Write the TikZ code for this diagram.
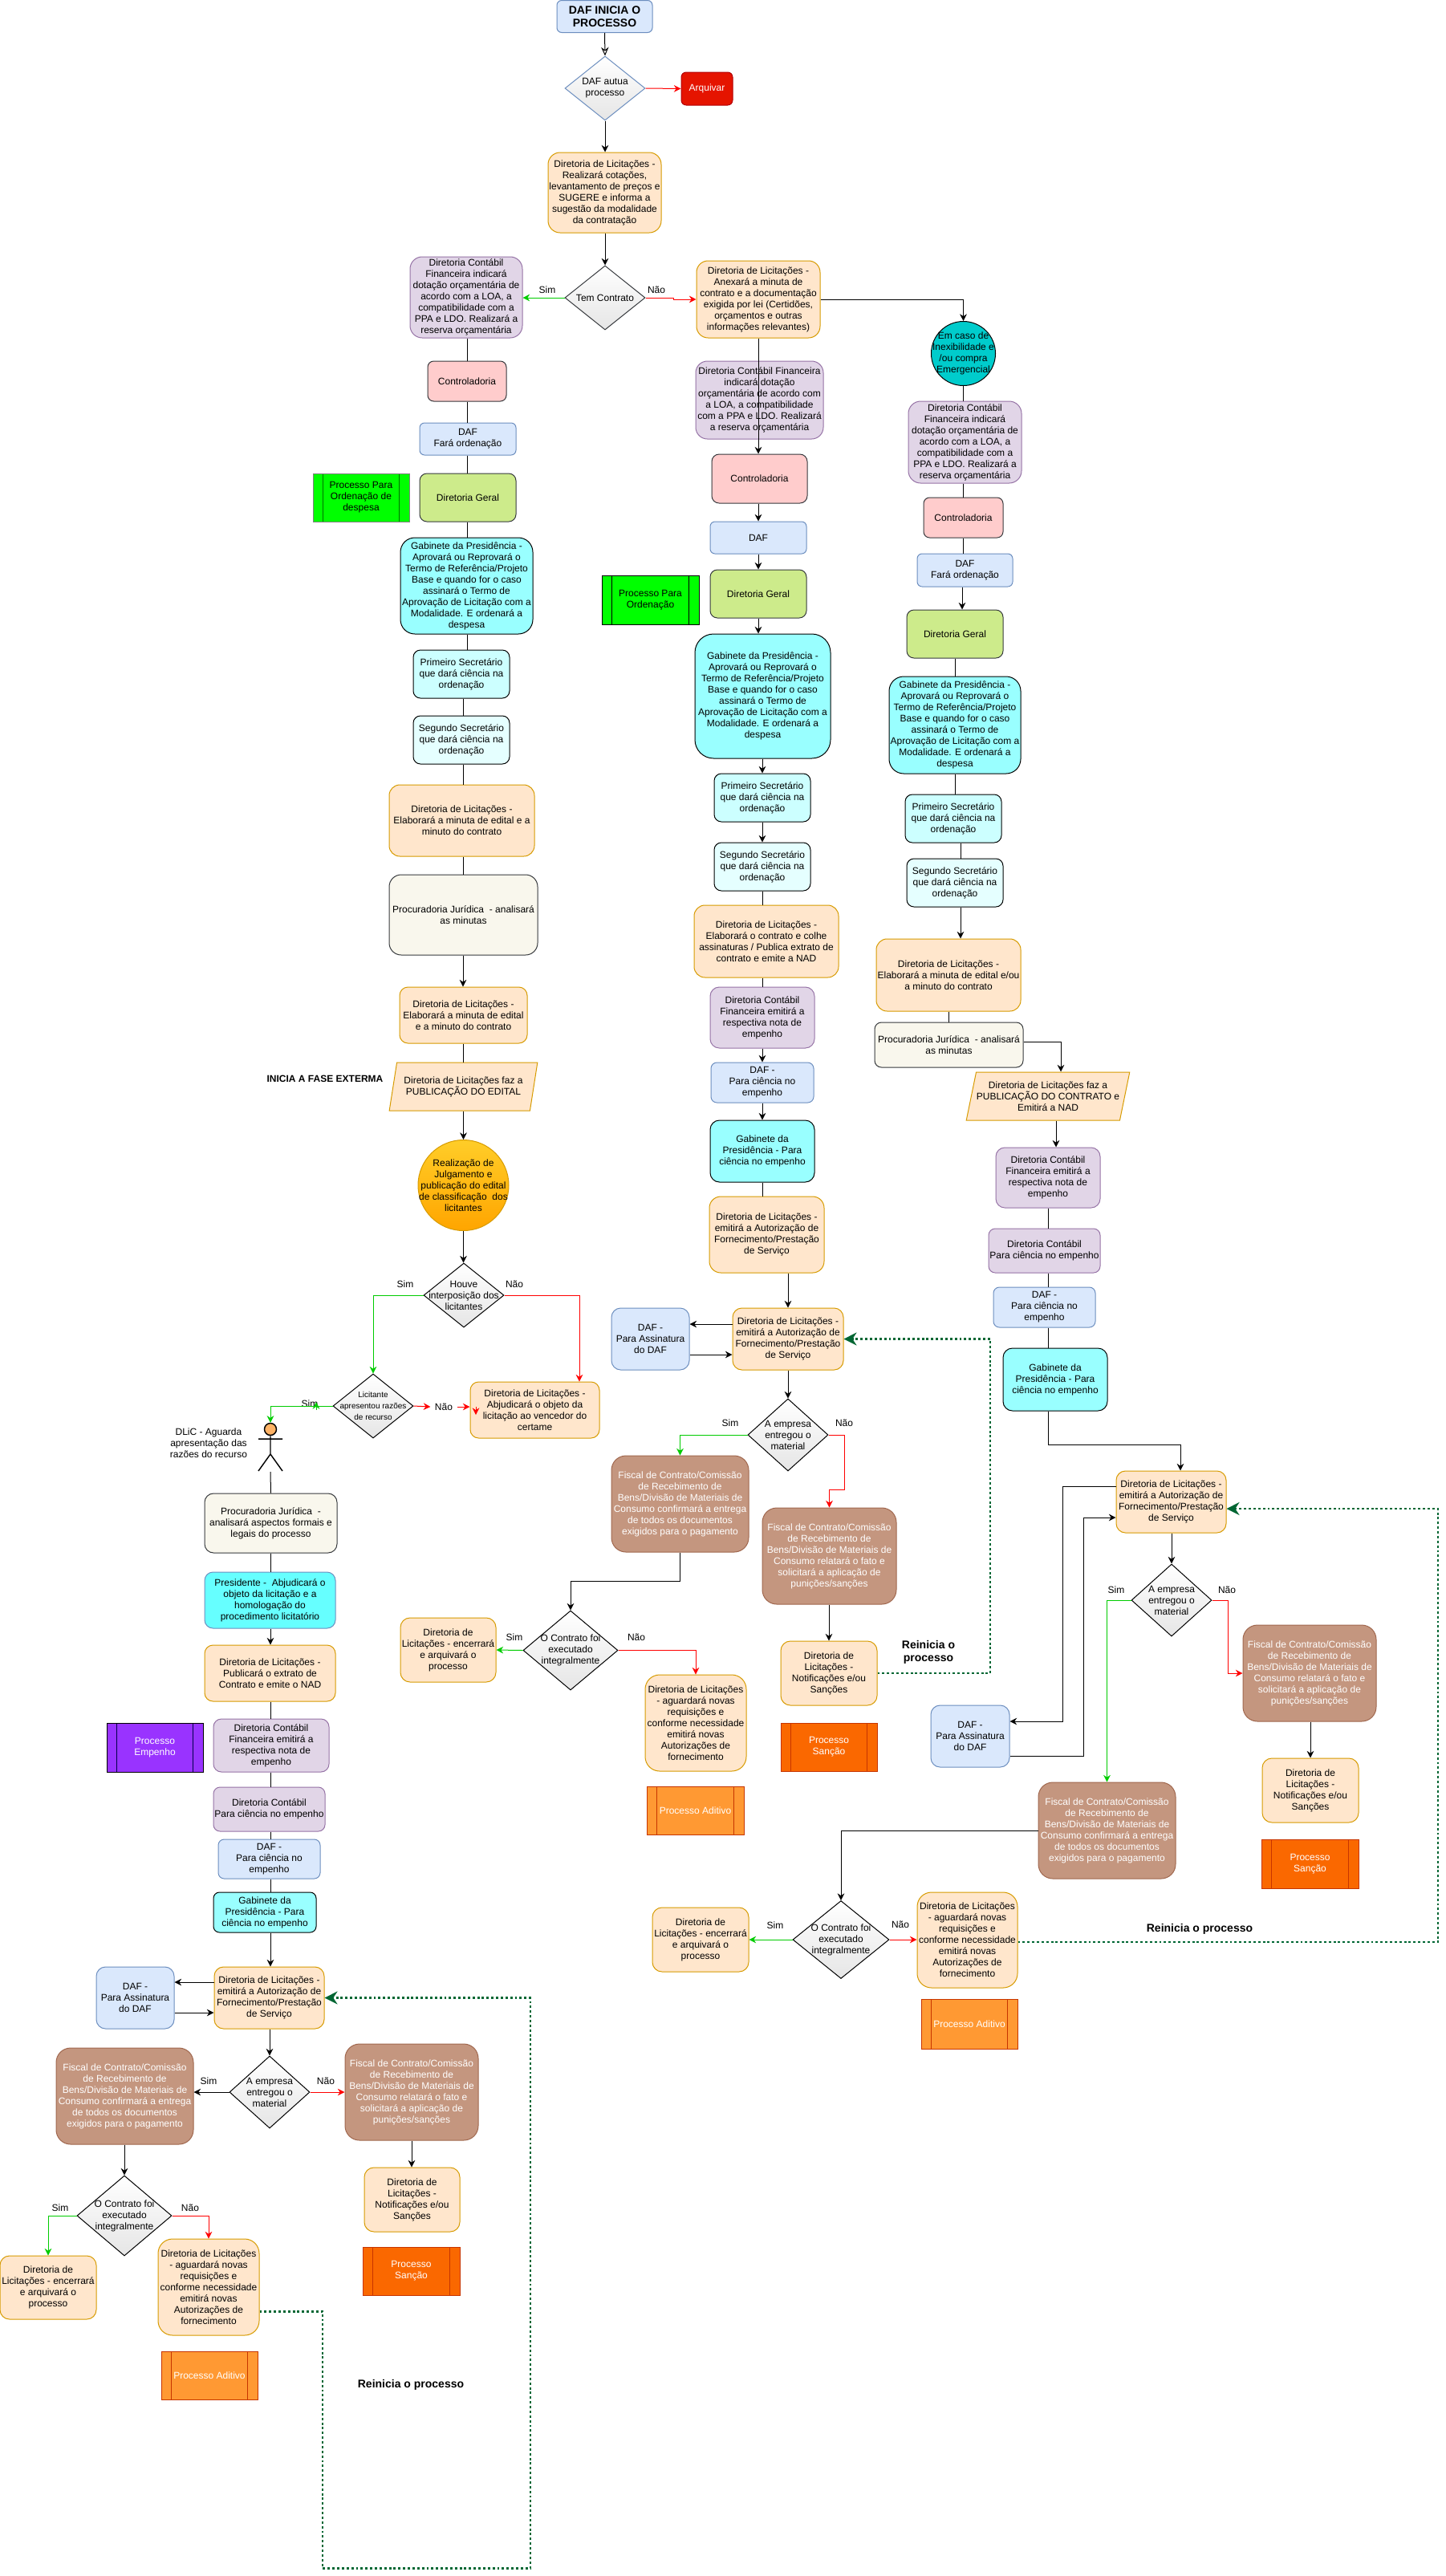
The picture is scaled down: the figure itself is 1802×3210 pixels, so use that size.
\documentclass[tikz,border=0pt]{standalone}
\usepackage{fontspec}
\setmainfont{Liberation Sans}
\usetikzlibrary{arrows.meta,shapes.geometric,calc}
\definecolor{licF}{HTML}{FFE6CC}
\definecolor{licD}{HTML}{D79B00}
\definecolor{conF}{HTML}{E1D5E7}
\definecolor{conD}{HTML}{9673A6}
\definecolor{dafF}{HTML}{DAE8FC}
\definecolor{dafD}{HTML}{6C8EBF}
\definecolor{darkD}{HTML}{36393D}
\definecolor{fisF}{HTML}{C4967F}
\definecolor{fisD}{HTML}{A0674E}
\definecolor{sanD}{HTML}{C73500}
\definecolor{loopG}{HTML}{006633}
\tikzset{
	sz/.style 2 args={minimum width=#1*.75pt,minimum height=#2*.75pt},
	rsz/.style 2 args={sz={#1}{#2},rounded corners={.15*min(#1,#2)*.75pt}},
	txt/.style={inner sep=0pt,align=center,font=\fontsize{9}{10.5}\selectfont},
	base/.style={txt,draw,line width=.75pt},
	licit/.style={base,draw=licD,fill=licF},
	contab/.style={base,draw=conD,fill=conF},
	dafbox/.style={base,draw=dafD,fill=dafF},
	ctrl/.style={base,draw=darkD,fill=red!20},
	geral/.style={base,draw=darkD,fill={rgb,255:red,205;green,235;blue,139}},
	gabin/.style={base,draw=black,fill={rgb,255:red,153;green,255;blue,255}},
	prim/.style={base,draw=black,fill={rgb,255:red,204;green,255;blue,255}},
	segu/.style={base,draw=black,fill={rgb,255:red,229;green,255;blue,255}},
	procu/.style={base,draw=darkD,fill={rgb,255:red,249;green,247;blue,237}},
	fiscal/.style={base,draw=fisD,fill=fisF,text=white},
	decis/.style={base,shape=diamond,draw=black,top color=white,bottom color=black!10},
	proc/.style={base,path picture={
		\draw[#1,line width=.75pt] ([xshift=9.5pt]path picture bounding box.south west) -- ([xshift=9.5pt]path picture bounding box.north west);
		\draw[#1,line width=.75pt] ([xshift=-9.5pt]path picture bounding box.south east) -- ([xshift=-9.5pt]path picture bounding box.north east);
	}},
	pubbox/.style={licit,shape=trapezium,trapezium stretches=true,trapezium left angle=71.6,trapezium right angle=108.4},
	lbl/.style={txt},
	ln/.style={line width=.75pt},
	arr/.style={ln,-{Stealth[length=6.5pt,width=6.5pt]}},
	arrG/.style={arr,color={rgb,255:red,0;green,204;blue,0}},
	arrR/.style={arr,red},
	back/.style={line width=2.2pt,loopG,dash pattern=on 2.2pt off 2.2pt,-{Stealth[length=12pt,width=12pt]}},
	head/.style={txt,font=\bfseries\fontsize{10.5}{12}\selectfont}
}
\begin{document}
\begin{tikzpicture}[x=.75pt,y=-.75pt]
\path[use as bounding box,fill=white] (0,0) rectangle (1802,3210);

% abertura
\node[dafbox,rsz={119}{40},font=\bfseries\fontsize{10.5}{12}\selectfont] (start) at (753.5,20.5) {DAF INICIA O\\PROCESSO};
\node[decis,sz={100}{80},draw=dafD,label={[txt]center:DAF autua\\processo}] (autua) at (754,110) {};
\node[base,rsz={64}{41},draw=red!70!black,fill={rgb,255:red,229;green,20;blue,0},text=white] (arq) at (881,110.5) {Arquivar};
\node[licit,rsz={141}{100}] (licA) at (753.5,240) {Diretoria de Licitações -\\Realizará cotações,\\levantamento de preços e\\SUGERE e informa a\\sugestão da modalidade\\da contratação};
\node[decis,sz={100}{80},draw=darkD,label={[txt]center:Tem Contrato}] (tem) at (754,371) {};

% coluna da esquerda
\node[contab,rsz={140}{101}] (conA) at (581,370.5) {Diretoria Contábil\\Financeira indicará\\dotação orçamentária de\\acordo com a LOA, a\\compatibilidade com a\\PPA e LDO. Realizará a\\reserva orçamentária};
\node[ctrl,rsz={98}{50}] (ctrA) at (582,475) {Controladoria};
\node[dafbox,rsz={120}{40}] (dafA) at (583,547) {DAF\\Fará ordenação};
\node[geral,rsz={120}{60}] (dgA) at (583,620) {Diretoria Geral};
\node[proc=green!45!black,sz={120}{60},draw=gray,fill=green] (prA) at (450,620) {Processo Para\\Ordenação de\\despesa};
\node[gabin,rsz={165}{120}] (gabA) at (581.5,730) {Gabinete da Presidência -\\Aprovará ou Reprovará o\\Termo de Referência/Projeto\\Base e quando for o caso\\assinará o Termo de\\Aprovação de Licitação com a\\Modalidade. E ordenará a\\despesa};
\node[prim,rsz={120}{60}] (priA) at (575,840) {Primeiro Secretário\\que dará ciência na\\ordenação};
\node[segu,rsz={120}{60}] (segA) at (575,922) {Segundo Secretário\\que dará ciência na\\ordenação};
\node[licit,rsz={181}{89}] (licC) at (575.5,1022.5) {Diretoria de Licitações -\\Elaborará a minuta de edital e a\\minuto do contrato};
\node[procu,rsz={185}{100}] (procA) at (577.5,1140) {Procuradoria Jurídica~ - analisará\\as minutas};
\node[licit,rsz={159}{70}] (licD) at (577.5,1265) {Diretoria de Licitações -\\Elaborará a minuta de edital\\e a minuto do contrato};
\node[pubbox,sz={185}{60}] (pubA) at (577.5,1354) {Diretoria de Licitações faz a\\PUBLICAÇÃO DO EDITAL};
\node[lbl,font=\bfseries\fontsize{9}{10.5}\selectfont] (fase) at (405,1344) {INICIA A FASE EXTERMA};
\node[txt,shape=circle,draw=licD,line width=.75pt,minimum size=113*.75pt,top color={rgb,255:red,255;green,205;blue,40},bottom color={rgb,255:red,255;green,165;blue,0},label={[txt]center:Realização de\\Julgamento e\\publicação do edital\\de classificação~ dos\\licitantes}] (reaA) at (577.5,1477) {};
\node[decis,sz={100}{80},label={[txt]center:Houve\\interposição dos\\licitantes}] (hou) at (578,1614) {};
\node[decis,sz={100}{80},label={[txt,font=\fontsize{7.5}{10.5}\selectfont]center:Licitante\\apresentou razões\\de recurso}] (lct) at (465,1752) {};
\node[licit,rsz={161}{70}] (licE) at (666.5,1757) {Diretoria de Licitações -\\Abjudicará o objeto da\\licitação ao vencedor do\\certame};
\node[lbl] (dlicT) at (260,1798) {DLiC - Aguarda\\apresentação das\\razões do recurso};
\node[shape=circle,draw=black,line width=1.1pt,fill={rgb,255:red,255;green,179;blue,102},minimum size=15*.75pt,inner sep=0pt] (dlic) at (337,1781) {};
\node[procu,rsz={165}{74}] (proB) at (337.5,1898) {Procuradoria Jurídica~ -\\analisará aspectos formais e\\legais do processo};
\node[base,rsz={163}{70},draw=dafD,fill={rgb,255:red,102;green,255;blue,255}] (pre) at (336.5,1994) {Presidente -~ Abjudicará o\\objeto da licitação e a\\homologação do\\procedimento licitatório};
\node[licit,rsz={163}{70}] (licF) at (336.5,2085) {Diretoria de Licitações -\\Publicará o extrato de\\Contrato e emite o NAD};
\node[proc=black!70!blue,sz={120}{61},draw=black,fill={rgb,255:red,153;green,51;blue,255},text=white] (prE) at (193,2177.5) {Processo\\Empenho};
\node[contab,rsz={144}{66}] (conB) at (338,2175) {Diretoria Contábil\\Financeira emitirá a\\respectiva nota de\\empenho};
\node[contab,rsz={139}{55}] (conC) at (335.5,2254.5) {Diretoria Contábil\\Para ciência no empenho};
\node[dafbox,rsz={127}{49}] (dafB) at (335.5,2316.5) {DAF -\\Para ciência no\\empenho};
\node[gabin,rsz={128}{50}] (gabB) at (330,2383) {Gabinete da\\Presidência - Para\\ciência no empenho};
\node[licit,rsz={137}{77}] (licG) at (335.5,2489.5) {Diretoria de Licitações -\\emitirá a Autorização de\\Fornecimento/Prestação\\de Serviço};
\node[dafbox,rsz={97}{77}] (dafC) at (168.5,2489.5) {DAF -\\Para Assinatura\\do DAF};
\node[decis,sz={100}{90},label={[txt]center:A empresa\\entregou o\\material}] (emA) at (336,2607) {};
\node[fiscal,rsz={171}{120}] (fisA) at (155.5,2612) {Fiscal de Contrato/Comissão\\de Recebimento de\\Bens/Divisão de Materiais de\\Consumo confirmará a entrega\\de todos os documentos\\exigidos para o pagamento};
\node[fiscal,rsz={166}{120}] (fisB) at (513,2607) {Fiscal de Contrato/Comissão\\de Recebimento de\\Bens/Divisão de Materiais de\\Consumo relatará o fato e\\solicitará a aplicação de\\punições/sanções};
\node[licit,rsz={119}{80}] (notA) at (513.5,2741) {Diretoria de\\Licitações -\\Notificações e/ou\\Sanções};
\node[proc=sanD,sz={121}{60},draw=sanD,fill={rgb,255:red,250;green,104;blue,0},text=white] (sanA) at (512.5,2830) {Processo\\Sanção};
\node[decis,sz={118}{100},label={[txt]center:O Contrato foi\\executado\\integralmente}] (conF) at (155,2761) {};
\node[licit,rsz={120}{79}] (encA) at (60,2850.5) {Diretoria de\\Licitações - encerrará\\e arquivará o\\processo};
\node[licit,rsz={126}{120}] (aguA) at (260,2850) {Diretoria de Licitações\\- aguardará novas\\requisições e\\conforme necessidade\\emitirá novas\\Autorizações de\\fornecimento};
\node[proc=sanD,sz={120}{60},draw=sanD,fill={rgb,255:red,255;green,153;blue,51},text=white] (adiA) at (261,2960) {Processo Aditivo};
\node[head] (reiA) at (512,2972) {Reinicia o processo};

% coluna do meio
\node[licit,rsz={154}{96}] (licB) at (945,373) {Diretoria de Licitações -\\Anexará a minuta de\\contrato e a documentação\\exigida por lei (Certidões,\\orçamentos e outras\\informações relevantes)};
\node[contab,rsz={159}{97}] (conD) at (946.5,498.5) {Diretoria Contábil Financeira\\indicará dotação\\orçamentária de acordo com\\a LOA, a compatibilidade\\com a PPA e LDO. Realizará\\a reserva orçamentária};
\node[ctrl,rsz={119}{61}] (ctrB) at (946.5,596.5) {Controladoria};
\node[dafbox,rsz={120}{40}] (dafD) at (945,670) {DAF};
\node[geral,rsz={120}{60}] (dgB) at (945,740) {Diretoria Geral};
\node[proc=black,sz={121}{61},draw=black,fill=green] (prB) at (810.5,747.5) {Processo Para\\Ordenação};
\node[gabin,rsz={169}{155}] (gabC) at (950.5,867.5) {Gabinete da Presidência -\\Aprovará ou Reprovará o\\Termo de Referência/Projeto\\Base e quando for o caso\\assinará o Termo de\\Aprovação de Licitação com a\\Modalidade. E ordenará a\\despesa};
\node[prim,rsz={120}{60}] (priB) at (950,994) {Primeiro Secretário\\que dará ciência na\\ordenação};
\node[segu,rsz={120}{60}] (segB) at (950,1080) {Segundo Secretário\\que dará ciência na\\ordenação};
\node[licit,rsz={180}{90}] (licH) at (955,1173) {Diretoria de Licitações -\\Elaborará o contrato e colhe\\assinaturas / Publica extrato de\\contrato e emite a NAD};
\node[contab,rsz={130}{76}] (conE) at (950,1268) {Diretoria Contábil\\Financeira emitirá a\\respectiva nota de\\empenho};
\node[dafbox,rsz={128}{50}] (dafE) at (950,1349) {DAF -\\Para ciência no\\empenho};
\node[gabin,rsz={130}{77}] (gabD) at (950,1434.5) {Gabinete da\\Presidência - Para\\ciência no empenho};
\node[licit,rsz={143}{95}] (licI) at (955.5,1538.5) {Diretoria de Licitações -\\emitirá a Autorização de\\Fornecimento/Prestação\\de Serviço};
\node[licit,rsz={138}{77}] (licJ) at (982,1668.5) {Diretoria de Licitações -\\emitirá a Autorização de\\Fornecimento/Prestação\\de Serviço};
\node[dafbox,rsz={97}{77}] (dafF) at (810.5,1668.5) {DAF -\\Para Assinatura\\do DAF};
\node[decis,sz={100}{90},label={[txt]center:A empresa\\entregou o\\material}] (emB) at (982,1788) {};
\node[fiscal,rsz={171}{120}] (fisC) at (847.5,1874) {Fiscal de Contrato/Comissão\\de Recebimento de\\Bens/Divisão de Materiais de\\Consumo confirmará a entrega\\de todos os documentos\\exigidos para o pagamento};
\node[fiscal,rsz={167}{120}] (fisD) at (1033.5,1939) {Fiscal de Contrato/Comissão\\de Recebimento de\\Bens/Divisão de Materiais de\\Consumo relatará o fato e\\solicitará a aplicação de\\punições/sanções};
\node[licit,rsz={120}{80}] (notB) at (1033,2085) {Diretoria de\\Licitações -\\Notificações e/ou\\Sanções};
\node[proc=sanD,sz={120}{60},draw=sanD,fill={rgb,255:red,250;green,104;blue,0},text=white] (sanB) at (1033,2177) {Processo\\Sanção};
\node[head] (reiB) at (1157,2059) {Reinicia o\\processo};
\node[decis,sz={118}{99},label={[txt]center:O Contrato foi\\executado\\integralmente}] (conG) at (711,2056.5) {};
\node[licit,rsz={119}{80}] (encB) at (558.5,2056) {Diretoria de\\Licitações - encerrará\\e arquivará o\\processo};
\node[licit,rsz={126}{120}] (aguB) at (867,2147) {Diretoria de Licitações\\- aguardará novas\\requisições e\\conforme necessidade\\emitirá novas\\Autorizações de\\fornecimento};
\node[proc=sanD,sz={121}{60},draw=sanD,fill={rgb,255:red,255;green,153;blue,51},text=white] (adiB) at (866.5,2256) {Processo Aditivo};

% coluna da direita
\node[txt,shape=circle,draw=black,line width=.75pt,fill={rgb,255:red,0;green,204;blue,204},minimum size=80*.75pt,label={[txt]center:Em caso de\\Inexibilidade e\\/ou compra\\Emergencial}] (emc) at (1200.5,440.5) {};
\node[contab,rsz={141}{102}] (conH) at (1202.5,551) {Diretoria Contábil\\Financeira indicará\\dotação orçamentária de\\acordo com a LOA, a\\compatibilidade com a\\PPA e LDO. Realizará a\\reserva orçamentária};
\node[ctrl,rsz={99}{50}] (ctrC) at (1200.5,645) {Controladoria};
\node[dafbox,rsz={119}{41}] (dafG) at (1202.5,710.5) {DAF\\Fará ordenação};
\node[geral,rsz={120}{60}] (dgC) at (1190,790) {Diretoria Geral};
\node[gabin,rsz={164}{121}] (gabE) at (1190,903.5) {Gabinete da Presidência -\\Aprovará ou Reprovará o\\Termo de Referência/Projeto\\Base e quando for o caso\\assinará o Termo de\\Aprovação de Licitação com a\\Modalidade. E ordenará a\\despesa};
\node[prim,rsz={120}{60}] (priC) at (1188,1020) {Primeiro Secretário\\que dará ciência na\\ordenação};
\node[segu,rsz={120}{60}] (segC) at (1190,1100) {Segundo Secretário\\que dará ciência na\\ordenação};
\node[licit,rsz={180}{90}] (licK) at (1182,1215) {Diretoria de Licitações -\\Elaborará a minuta de edital e/ou\\a minuto do contrato};
\node[procu,rsz={185}{56}] (procB) at (1182.5,1302) {Procuradoria Jurídica~ - analisará\\as minutas};
\node[pubbox,sz={204}{60}] (pubB) at (1306,1366) {Diretoria de Licitações faz a\\PUBLICAÇÃO DO CONTRATO e\\Emitirá a NAD};
\node[contab,rsz={130}{75}] (conI) at (1306,1467.5) {Diretoria Contábil\\Financeira emitirá a\\respectiva nota de\\empenho};
\node[contab,rsz={139}{55}] (conJ) at (1301.5,1558.5) {Diretoria Contábil\\Para ciência no empenho};
\node[dafbox,rsz={127}{50}] (dafH) at (1301.5,1629) {DAF -\\Para ciência no\\empenho};
\node[gabin,rsz={130}{78}] (gabF) at (1315,1719) {Gabinete da\\Presidência - Para\\ciência no empenho};
\node[licit,rsz={137}{77}] (licL) at (1459.5,1871.5) {Diretoria de Licitações -\\emitirá a Autorização de\\Fornecimento/Prestação\\de Serviço};
\node[decis,sz={100}{90},label={[txt]center:A empresa\\entregou o\\material}] (emD) at (1460,1994) {};
\node[dafbox,rsz={98}{77}] (dafI) at (1209,2163.5) {DAF -\\Para Assinatura\\do DAF};
\node[fiscal,rsz={171}{120}] (fisE) at (1379.5,2281) {Fiscal de Contrato/Comissão\\de Recebimento de\\Bens/Divisão de Materiais de\\Consumo confirmará a entrega\\de todos os documentos\\exigidos para o pagamento};
\node[fiscal,rsz={166}{120}] (fisF) at (1632,2085) {Fiscal de Contrato/Comissão\\de Recebimento de\\Bens/Divisão de Materiais de\\Consumo relatará o fato e\\solicitará a aplicação de\\punições/sanções};
\node[licit,rsz={120}{80}] (notC) at (1633,2231) {Diretoria de\\Licitações -\\Notificações e/ou\\Sanções};
\node[proc=sanD,sz={121}{61},draw=sanD,fill={rgb,255:red,250;green,104;blue,0},text=white] (sanC) at (1632.5,2322.5) {Processo\\Sanção};
\node[decis,sz={120}{97},label={[txt]center:O Contrato foi\\executado\\integralmente}] (conK) at (1048,2417) {};
\node[licit,rsz={120}{80}] (encC) at (873,2417) {Diretoria de\\Licitações - encerrará\\e arquivará o\\processo};
\node[licit,rsz={125}{119}] (aguC) at (1205.5,2417.5) {Diretoria de Licitações\\- aguardará novas\\requisições e\\conforme necessidade\\emitirá novas\\Autorizações de\\fornecimento};
\node[proc=sanD,sz={120}{62},draw=sanD,fill={rgb,255:red,255;green,153;blue,51},text=white] (adiC) at (1208,2522) {Processo Aditivo};
\node[head] (reiC) at (1495,2404) {Reinicia o processo};

% rotulos
\foreach \n/\p/\t in {simT/{682,361}/Sim,naoT/{818,361}/Não,simH/{505,1600}/Sim,naoH/{641,1600}/Não,simL/{386,1749}/Sim,naoL/{553,1753}/Não,
	simE/{260,2593}/Sim,naoE/{406,2593}/Não,simF/{75,2751}/Sim,naoF/{237,2751}/Não,
	simM/{910,1773}/Sim,naoM/{1052,1773}/Não,simG/{641,2040}/Sim,naoG/{793,2040}/Não,
	simR/{1391,1981}/Sim,naoR/{1529,1981}/Não,simK/{966,2399}/Sim,naoK/{1122,2398}/Não}
{
	\node[lbl] (\n) at (\p) {\t};
}

% ligacoes: origem/destino/x
\foreach \a/\b/\c in {conA/ctrA/582,ctrA/dafA/582,dafA/dgA/582,dgA/gabA/582,gabA/priA/582,priA/segA/577,segA/licC/577,licC/procA/577,licD/pubA/577,
	proB/pre/337,licF/conB/337,conB/conC/337,conC/dafB/337,dafB/gabB/337,
	segB/licH/950,licH/conE/950,gabD/licI/950,
	emc/conH/1200,conH/ctrC/1200,ctrC/dafG/1200,dgC/gabE/1190,gabE/priC/1190,priC/segC/1197,licK/procB/1182,conI/conJ/1306,conJ/dafH/1306,dafH/gabF/1306}
{
	\draw[ln] (\c,0 |- \a.south) -- (\c,0 |- \b.north);
}
\foreach \a/\b/\c in {autua/licA/754,licA/tem/754,procA/licD/577,pubA/reaA/577.5,reaA/hou/577.5,pre/licF/337,gabB/licG/337,licG/emA/336,fisA/conF/155,fisB/notA/513,
	licB/ctrB/945,ctrB/dafD/945,dafD/dgB/945,dgB/gabC/945,gabC/priB/950,priB/segB/950,conE/dafE/950,dafE/gabD/950,licI/licJ/982,licJ/emB/982,fisD/notB/1033,
	dafG/dgC/1199,segC/licK/1197,pubB/conI/1316,licL/emD/1460,fisF/notC/1633}
{
	\draw[arr] (\c,0 |- \a.south) -- (\c,0 |- \b.north);
}
\draw[arr,-{Stealth[open,length=8pt,width=7pt]}] (start.south) -- (autua.north);
\draw[arrR] (autua.east) -- (arq.west);
\draw[arrG] (tem.west) -- (tem.west -| conA.east);
\draw[arrR] (tem.east) -- ++(35,0) |- (licB.west);
\draw[arr] (licB.east) -| (emc.north);

\draw[arrG] (hou.west) -| (lct.north);
\draw[arrR] (hou.east) -| (722,0 |- licE.north);
\draw[arrG] (lct.west) -| (dlic.north);
\draw[arrG] (394,1757) -- (394,1747);
\draw[arrR] (lct.east) -- ([xshift=-4pt]naoL.west);
\draw[arrR] ([xshift=4pt]naoL.east) -- (licE.west |- naoL.east);
\draw[arrR] (593,1753) -- (593,1763);

% ator
\coordinate (hip) at (337,1812);
\coordinate (actb) at (337,1834);
\draw[line width=1.1pt] (dlic.south) -- (hip) -- (322,1833) (hip) -- (352,1833) (322,1793) -- (352,1793);
\draw[ln] (actb) -- (proB.north);

\draw[arr] (licG.west |- 0,2470) -- (dafC.east |- 0,2470);
\draw[arr] (dafC.east |- 0,2508) -- (licG.west |- 0,2508);
\draw[arr] (emA.west) -- (emA.west -| fisA.east);
\draw[arrR] (emA.east) -- (emA.east -| fisB.west);
\draw[arrG] (conF.west) -| (encA.north);
\draw[arrR] (conF.east) -| (aguA.north);
\draw[back] (aguA.east |- 0,2880) -- (402,2880) |- (661,3200) |- (licG.east);

\draw[arr] (licJ.west |- 0,1650) -- (dafF.east |- 0,1650);
\draw[arr] (dafF.east |- 0,1688) -- (licJ.west |- 0,1688);
\draw[arrG] (emB.west) -| (fisC.north);
\draw[arrR] (emB.east) -| (1052,1856) -| (fisD.north);
\draw[arr] (fisC.south) |- (conG.north |- 0,1970) -- (conG.north);
\draw[arrG] (conG.west) -- (encB.east);
\draw[arrR] (conG.east) -| (aguB.north);
\draw[back] (notB.east) -- (1234,2085) |- (licJ.east);

\draw[arr] (procB.east |- 0,1298) -| (1322,0 |- pubB.north);
\draw[arr] (1306,0 |- gabF.south) |- (1471,1800) -- (1471,0 |- licL.north);
\draw[arr] (licL.west |- 0,1852) -| (1324,2145) -- (dafI.east |- 0,2145);
\draw[arr] (dafI.east |- 0,2188) -| (1350,1891) -- (licL.west |- 0,1891);
\draw[arrG] (emD.west) -| (fisE.north);
\draw[arrR] (emD.east) -| (1530,2085) -- (fisF.west);
\draw[arr] (fisE.west) -| (conK.north);
\draw[arrG] (conK.west) -- (encC.east);
\draw[arrR] (conK.east) -- (aguC.west |- conK.east);
\draw[back] (aguC.east |- 0,2420) -- (1792,2420) |- (licL.east |- 0,1880);

\end{tikzpicture}
\end{document}
